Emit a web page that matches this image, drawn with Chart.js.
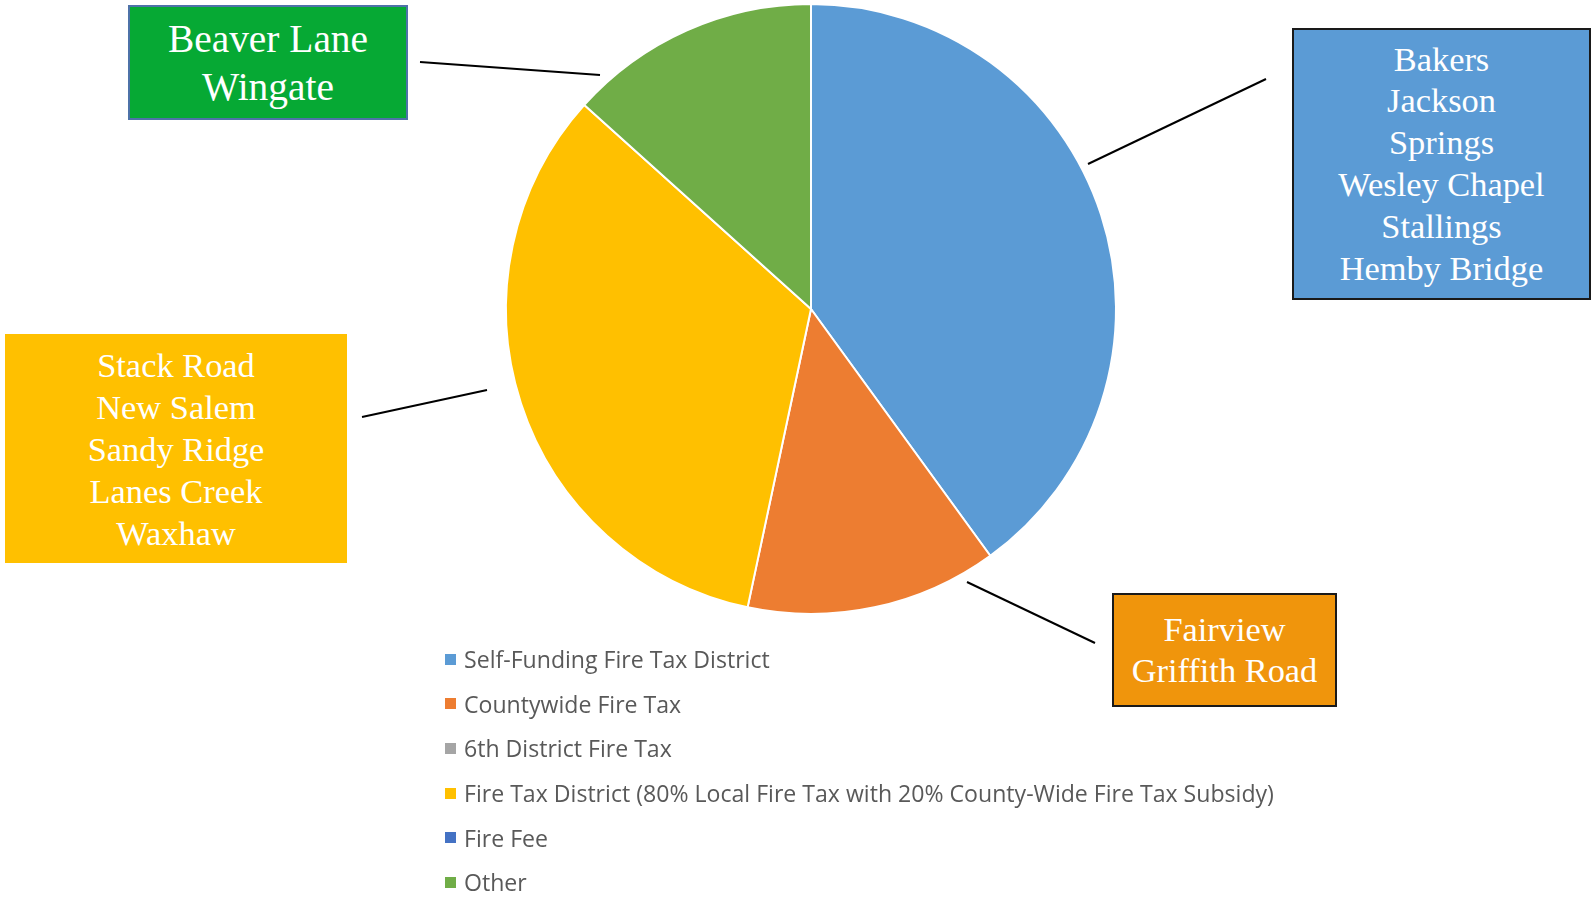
<!DOCTYPE html>
<html>
<head>
<meta charset="utf-8">
<script src="https://cdn.jsdelivr.net/npm/chart.js@4"></script>
<style>
  body { margin: 0; background: #fff; overflow: hidden; }
  #wrap { position: relative; width: 1591px; height: 899px; }
  canvas { position: absolute; left: 0; top: 0; }
  .box {
    position: absolute; box-sizing: border-box; display: flex; flex-direction: column;
    justify-content: center; align-items: center; color: #fff;
    font-family: "Liberation Serif", "Times New Roman", serif; text-align: center; white-space: nowrap;
  }
  #legend { position: absolute; left: 445px; top: 637px; font-family: "Open Sans", sans-serif; color: #595959; }
  .row { display: flex; align-items: center; height: 44.6px; font-size: 23.1px; }
  .swatch { width: 11px; height: 11px; margin-right: 8px; }
</style>
</head>
<body>
<div id="wrap">
  <canvas id="pie" width="1591" height="899"></canvas>
  <div id="legend"></div>
</div>
<script>
const categories = [
  'Self-Funding Fire Tax District',
  'Countywide Fire Tax',
  '6th District Fire Tax',
  'Fire Tax District (80% Local Fire Tax with 20% County-Wide Fire Tax Subsidy)',
  'Fire Fee',
  'Other'
];
// number of departments in each funding type
const counts = [6, 2, 0, 5, 0, 2];
const colors = ['#5B9BD5', '#ED7D31', '#A5A5A5', '#FFC000', '#4472C4', '#70AD47'];

const selfFundingNames = ['Bakers', 'Jackson', 'Springs', 'Wesley Chapel', 'Stallings', 'Hemby Bridge'];
const countywideNames = ['Fairview', 'Griffith Road'];
const fireTaxNames = ['Stack Road', 'New Salem', 'Sandy Ridge', 'Lanes Creek', 'Waxhaw'];
const otherNames = ['Beaver Lane', 'Wingate'];

// callout boxes and their leader lines (page layout)
const callouts = [
  {names: selfFundingNames, left: 1292, top: 28, width: 299, height: 272, fill: '#5B9BD5', border: '2px solid #1a1a1a', size: 34.4, lh: 41.8, line: [1088, 164, 1266, 79]},
  {names: countywideNames, left: 1112, top: 593, width: 225, height: 114, fill: '#F0950C', border: '2px solid #1a1a1a', size: 34.4, lh: 41, line: [967, 582, 1095, 643]},
  {names: fireTaxNames, left: 5, top: 334, width: 342, height: 229, fill: '#FFC000', border: 'none', size: 34.4, lh: 42, line: [362, 417, 487, 390]},
  {names: otherNames, left: 128, top: 5, width: 280, height: 115, fill: '#06A934', border: '2px solid #4E72A8', size: 39.4, lh: 48, line: [420, 62, 600, 75]}
];

const leaderLines = {
  id: 'leaderLines',
  afterDatasetsDraw(chart){
    const ctx = chart.ctx;
    ctx.save();
    ctx.strokeStyle = '#000';
    ctx.lineWidth = 2;
    for(const c of callouts){
      ctx.beginPath();
      ctx.moveTo(c.line[0], c.line[1]);
      ctx.lineTo(c.line[2], c.line[3]);
      ctx.stroke();
    }
    ctx.restore();
  }
};

new Chart(document.getElementById('pie'), {
  type: 'pie',
  data: {
    labels: categories,
    datasets: [{
      data: counts,
      backgroundColor: colors,
      borderColor: '#fff',
      borderWidth: 2
    }]
  },
  options: {
    responsive: false,
    animation: false,
    layout: { padding: { top: 3, bottom: 284, left: 505, right: 474 } },
    plugins: {
      legend: { display: false },
      tooltip: { enabled: false }
    }
  },
  plugins: [leaderLines]
});

const wrap = document.getElementById('wrap');
for(const c of callouts){
  const box = document.createElement('div');
  box.className = 'box';
  box.style.left = c.left + 'px';
  box.style.top = c.top + 'px';
  box.style.width = c.width + 'px';
  box.style.height = c.height + 'px';
  box.style.background = c.fill;
  box.style.border = c.border;
  box.style.fontSize = c.size + 'px';
  box.style.lineHeight = c.lh + 'px';
  for(const n of c.names){
    const d = document.createElement('div');
    d.textContent = n;
    box.appendChild(d);
  }
  wrap.appendChild(box);
}

const legend = document.getElementById('legend');
categories.forEach((cat, i) => {
  const row = document.createElement('div');
  row.className = 'row';
  const sw = document.createElement('span');
  sw.className = 'swatch';
  sw.style.background = colors[i];
  const txt = document.createElement('span');
  txt.textContent = cat;
  row.appendChild(sw);
  row.appendChild(txt);
  legend.appendChild(row);
});
</script>
</body>
</html>
